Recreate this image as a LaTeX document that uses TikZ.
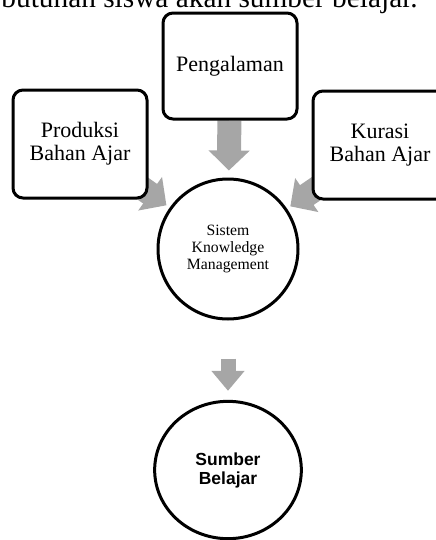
\documentclass[tikz,border=0pt]{standalone}
\usepackage{fontspec}
\setmainfont{Liberation Serif}
\newfontfamily\arialfont{Liberation Sans}
\usetikzlibrary{arrows.meta,shapes.geometric,backgrounds}
\definecolor{arrowgray}{HTML}{A6A6A6}

\begin{document}
\begin{tikzpicture}[x=0.75pt,y=-0.75pt,
    box/.style={shape=rectangle,rounded corners=7.5pt,draw=black,line width=2.25pt,fill=white,
      minimum width=100.5pt,inner sep=0pt,align=center,font=\fontsize{16.5}{17.5}\selectfont},
    bigarrow/.style={draw=arrowgray,line width=18pt,-{Triangle[width=30pt,length=15pt]}},
    smallarrow/.style={draw=arrowgray,line width=11.25pt,-{Triangle[width=24pt,length=15pt]}}]
      \useasboundingbox (0,0) rectangle (436,540);
      \clip (0,0) rectangle (436,540);
      \node[anchor=base east,inner sep=0pt,font=\fontsize{22}{26}\selectfont] (intro) at (418,7) {butuhan siswa akan sumber belajar.};
      \node[box,minimum height=79.5pt] (peng) at (230,66) {Pengalaman};
      \node[box,minimum height=81pt] (prod) at (80,144) {Produksi\\Bahan Ajar};
      \node[box,minimum height=81pt] (kur) at (380,145) {Kurasi\\Bahan Ajar};
      \node[shape=circle,draw=black,line width=2.25pt,fill=white,minimum size=105pt,inner sep=0pt,
        align=center,font=\fontsize{11.8}{12.75}\selectfont] (skm) at (228,249) {Sistem\\Knowledge\\Management};
      \node[shape=ellipse,draw=black,line width=2.25pt,fill=white,minimum width=110pt,minimum height=103pt,
        inner sep=0pt,align=center,font=\arialfont\bfseries\fontsize{13.1}{14.25}\selectfont] (sb) at (228,470) {Sumber\\Belajar};
      \begin{scope}[on background layer]
      \path
      (peng) edge[bigarrow,shorten >=5.25pt] (skm)
      (prod) edge[bigarrow,shorten <=-8pt,shorten >=3pt] (skm)
      (kur) edge[bigarrow,shorten <=-8pt,shorten >=3pt] (skm)
      (skm) edge[smallarrow,shorten <=28.5pt,shorten >=6.75pt] (sb);
      \end{scope}
    \end{tikzpicture}
\end{document}
